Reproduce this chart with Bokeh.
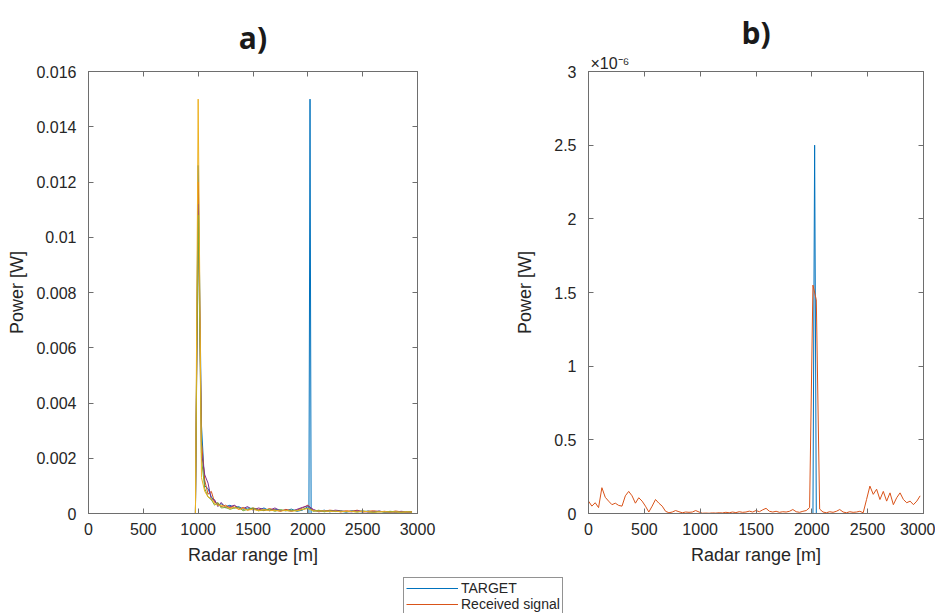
from bokeh.plotting import figure
from bokeh.models import (Range1d, FixedTicker, LinearAxis, Legend, LegendItem, Title,
                          Spacer, CustomJSTickFormatter)
from bokeh.layouts import row, column
from bokeh.embed import file_html
from bokeh.resources import INLINE

# ---------------- data ----------------
# panel a): several received signals [W] over radar range [m]
range_a = [0, 975, 1000, 1030, 1060, 1090, 1120, 1150, 1180, 1210,
           1250, 1290, 1330, 1370, 1410, 1450,
           1500, 1550, 1600, 1650, 1700, 1750, 1800, 1850, 1900, 1950,
           2000, 2050, 2100, 2150, 2200, 2250, 2300, 2350, 2400, 2450,
           2500, 2550, 2600, 2650, 2700, 2750, 2800, 2850, 2900, 2950]
sig_a_blue = [0, 0, 12.6e-3, 3.2e-3, 1.0e-3, 0.9e-3, 0.6e-3, 0.45e-3, 0.3e-3, 0.35e-3,
              0.25e-3, 0.3e-3, 0.2e-3, 0.25e-3, 0.15e-3, 0.2e-3,
              0.18e-3, 0.12e-3, 0.2e-3, 0.1e-3, 0.15e-3, 0.12e-3, 0.1e-3, 0.16e-3, 0.08e-3, 0.12e-3,
              0.25e-3, 0.1e-3, 0.08e-3, 0.12e-3, 0.06e-3, 0.1e-3, 0.08e-3, 0.05e-3, 0.1e-3, 0.07e-3,
              0.06e-3, 0.09e-3, 0.05e-3, 0.08e-3, 0.06e-3, 0.04e-3, 0.07e-3, 0.05e-3, 0.06e-3, 0.04e-3]
sig_a_orange = [0, 0, 12.0e-3, 2.6e-3, 1.2e-3, 0.7e-3, 0.8e-3, 0.4e-3, 0.35e-3, 0.25e-3,
                0.3e-3, 0.2e-3, 0.28e-3, 0.15e-3, 0.22e-3, 0.12e-3,
                0.2e-3, 0.15e-3, 0.1e-3, 0.18e-3, 0.12e-3, 0.08e-3, 0.15e-3, 0.1e-3, 0.12e-3, 0.2e-3,
                0.3e-3, 0.12e-3, 0.1e-3, 0.08e-3, 0.12e-3, 0.1e-3, 0.06e-3, 0.1e-3, 0.08e-3, 0.12e-3,
                0.05e-3, 0.08e-3, 0.1e-3, 0.06e-3, 0.08e-3, 0.05e-3, 0.09e-3, 0.06e-3, 0.05e-3, 0.07e-3]
sig_a_purple = [0, 0, 11.2e-3, 2.2e-3, 1.4e-3, 1.1e-3, 0.5e-3, 0.5e-3, 0.25e-3, 0.4e-3,
                0.2e-3, 0.25e-3, 0.3e-3, 0.2e-3, 0.18e-3, 0.25e-3,
                0.12e-3, 0.2e-3, 0.15e-3, 0.12e-3, 0.2e-3, 0.1e-3, 0.12e-3, 0.08e-3, 0.15e-3, 0.22e-3,
                0.28e-3, 0.15e-3, 0.06e-3, 0.1e-3, 0.08e-3, 0.12e-3, 0.1e-3, 0.07e-3, 0.06e-3, 0.1e-3,
                0.08e-3, 0.05e-3, 0.07e-3, 0.09e-3, 0.05e-3, 0.07e-3, 0.04e-3, 0.08e-3, 0.06e-3, 0.05e-3]
sig_a_green = [0, 0, 10.8e-3, 2.0e-3, 0.9e-3, 0.6e-3, 0.5e-3, 0.3e-3, 0.4e-3, 0.2e-3,
               0.22e-3, 0.15e-3, 0.2e-3, 0.22e-3, 0.1e-3, 0.15e-3,
               0.2e-3, 0.1e-3, 0.12e-3, 0.15e-3, 0.08e-3, 0.14e-3, 0.1e-3, 0.12e-3, 0.1e-3, 0.15e-3,
               0.2e-3, 0.08e-3, 0.12e-3, 0.06e-3, 0.1e-3, 0.07e-3, 0.09e-3, 0.06e-3, 0.08e-3, 0.05e-3,
               0.1e-3, 0.06e-3, 0.04e-3, 0.07e-3, 0.05e-3, 0.08e-3, 0.06e-3, 0.04e-3, 0.07e-3, 0.05e-3]
sig_a_yellow = [0, 0, 15.0e-3, 1.3e-3, 0.8e-3, 0.6e-3, 0.55e-3, 0.35e-3, 0.3e-3, 0.3e-3,
                0.25e-3, 0.18e-3, 0.22e-3, 0.15e-3, 0.18e-3, 0.12e-3,
                0.15e-3, 0.1e-3, 0.14e-3, 0.1e-3, 0.12e-3, 0.09e-3, 0.11e-3, 0.08e-3, 0.1e-3, 0.14e-3,
                0.18e-3, 0.1e-3, 0.08e-3, 0.1e-3, 0.07e-3, 0.09e-3, 0.06e-3, 0.08e-3, 0.07e-3, 0.06e-3,
                0.08e-3, 0.07e-3, 0.05e-3, 0.06e-3, 0.07e-3, 0.05e-3, 0.06e-3, 0.05e-3, 0.06e-3, 0.05e-3]
target_a_x = [0, 2010, 2020, 2030, 2950]
target_a_y = [0, 0, 15.0e-3, 0, 0]

# panel b): received signal [W] and target
range_b = list(range(0, 3000, 30))
received_b = [0.84e-7, 0.5e-7, 0.73e-7, 0.4e-7, 1.75e-7, 1.1e-7, 0.84e-7, 0.6e-7, 0.7e-7, 0.55e-7,
              0.5e-7, 1.2e-7, 1.5e-7, 1.2e-7, 0.7e-7, 1.07e-7, 0.84e-7, 0.5e-7, 0.1e-7, 0.5e-7,
              0.95e-7, 0.7e-7, 0.5e-7, 0.15e-7, 0.05e-7, 0.1e-7, 0.2e-7, 0.12e-7, 0.05e-7, 0.1e-7,
              0.08e-7, 0.1e-7, 0.2e-7, 0.1e-7, 0.02e-7, 0.03e-7, 0.02e-7, 0.04e-7, 0.03e-7, 0.05e-7,
              0.04e-7, 0.08e-7, 0.05e-7, 0.1e-7, 0.06e-7, 0.12e-7, 0.08e-7, 0.1e-7, 0.16e-7, 0.1e-7,
              0.2e-7, 0.12e-7, 0.25e-7, 0.35e-7, 0.15e-7, 0.1e-7, 0.15e-7, 0.08e-7, 0.12e-7, 0.1e-7,
              0.15e-7, 0.27e-7, 0.12e-7, 0.08e-7, 0.15e-7, 0.2e-7, 0.4e-7, 15.5e-7, 14.5e-7, 0.3e-7,
              0.1e-7, 0.05e-7, 0.12e-7, 0.08e-7, 0.15e-7, 0.27e-7, 0.1e-7, 0.05e-7, 0.12e-7, 0.08e-7,
              0.1e-7, 0.15e-7, 0.05e-7, 0.95e-7, 1.86e-7, 1.3e-7, 1.65e-7, 0.95e-7, 1.5e-7, 0.84e-7,
              1.4e-7, 0.6e-7, 1.07e-7, 1.4e-7, 0.95e-7, 0.73e-7, 0.84e-7, 0.6e-7, 0.84e-7, 1.2e-7]
target_b_x = [0, 2010, 2025, 2040, 2970]
target_b_y = [0, 0, 2.5e-6, 0, 0]

x_ticks = [0, 500, 1000, 1500, 2000, 2500, 3000]
x_tick_labels = ["0", "500", "1000", "1500", "2000", "2500", "3000"]
ya_ticks = [0, 0.002, 0.004, 0.006, 0.008, 0.01, 0.012, 0.014, 0.016]
ya_tick_labels = ["0", "0.002", "0.004", "0.006", "0.008", "0.01", "0.012", "0.014", "0.016"]
yb_ticks = [0, 0.5e-6, 1.0e-6, 1.5e-6, 2.0e-6, 2.5e-6, 3.0e-6]
yb_tick_labels = ["0", "0.5", "1", "1.5", "2", "2.5", "3"]
yb_multiplier = "\u00d710\u207b\u2076"

legend_labels = ["TARGET", "Received signal"]

# ---------------- style ----------------
FONT = "Liberation Sans"
AX = "#6e6e6e"
TXT = "#262626"
C_BLUE = "#0072BD"
C_ORANGE = "#D95319"
C_YELLOW = "#EDB120"
C_PURPLE = "#7E2F8E"
C_GREEN = "#77AC30"


def fmt(ticks, labels):
    return CustomJSTickFormatter(args=dict(vals=ticks, labs=labels), code="""
        for (let i = 0; i < vals.length; i++) {
            if (Math.abs(vals[i] - tick) <= 1e-6 * Math.abs(vals[i]) + 1e-18) return labs[i];
        }
        return '';""")


def style_axis(ax):
    ax.axis_line_color = AX
    ax.axis_line_width = 1
    ax.major_tick_line_color = AX
    ax.major_tick_in = 5
    ax.major_tick_out = 0
    ax.minor_tick_in = 0
    ax.minor_tick_out = 0
    ax.major_label_text_font = FONT
    ax.major_label_text_font_size = "16px"
    ax.major_label_text_color = TXT
    ax.axis_label_text_font = FONT
    ax.axis_label_text_font_size = "18px"
    ax.axis_label_text_font_style = "normal"
    ax.axis_label_text_color = TXT


def make_title(text, standoff):
    return Title(text=text, align="center", text_font="Open Sans", text_font_size="30px",
                 text_font_style="bold", text_color="#1a1a1a", standoff=standoff)


def make_fig(width, mleft, mright, yt, yl, ymax, ylab_standoff):
    p = figure(width=width, height=575,
               x_range=Range1d(0, 3000), y_range=Range1d(0, ymax),
               x_axis_type=None, y_axis_type=None,
               toolbar_location=None, output_backend="svg",
               min_border_left=mleft, min_border_right=mright,
               min_border_top=71, min_border_bottom=62,
               outline_line_color=AX, background_fill_color="white",
               border_fill_color="white")

    bx = LinearAxis(ticker=FixedTicker(ticks=x_ticks), formatter=fmt(x_ticks, x_tick_labels),
                    axis_label="Radar range [m]")
    style_axis(bx)
    bx.major_label_standoff = 9
    bx.axis_label_standoff = 7
    p.add_layout(bx, "below")

    ly = LinearAxis(ticker=FixedTicker(ticks=yt), formatter=fmt(yt, yl), axis_label="Power [W]")
    style_axis(ly)
    ly.major_label_standoff = 12
    ly.axis_label_standoff = ylab_standoff
    p.add_layout(ly, "left")

    tx = LinearAxis(ticker=FixedTicker(ticks=x_ticks), formatter=CustomJSTickFormatter(code="return ''"))
    style_axis(tx)
    tx.major_label_text_font_size = "1px"
    tx.major_label_standoff = 0
    p.add_layout(tx, "above")

    ry = LinearAxis(ticker=FixedTicker(ticks=yt), formatter=CustomJSTickFormatter(code="return ''"))
    style_axis(ry)
    ry.major_label_text_font_size = "1px"
    ry.major_label_standoff = 0
    p.add_layout(ry, "right")
    return p


# ---------------- panel a ----------------
p1 = make_fig(490, 88, 73, ya_ticks, ya_tick_labels, 0.016, 6)
p1.add_layout(make_title("a)", 28), "above")
p1.line(target_a_x, target_a_y, line_color=C_BLUE, line_width=1)
for ys, c in [(sig_a_blue, C_BLUE), (sig_a_orange, C_ORANGE), (sig_a_purple, C_PURPLE),
              (sig_a_green, C_GREEN), (sig_a_yellow, C_YELLOW)]:
    p1.line(range_a, ys, line_color=c, line_width=1)

# ---------------- panel b ----------------
p2 = make_fig(445, 98, 12, yb_ticks, yb_tick_labels, 3e-6, 16)
p2.add_layout(Title(text=yb_multiplier, align="left", offset=2, standoff=0,
                    text_font=FONT, text_font_size="16px", text_font_style="normal",
                    text_color=TXT), "above")
p2.add_layout(make_title("b)", 0), "above")
p2.line(target_b_x, target_b_y, line_color=C_BLUE, line_width=1)
p2.line(range_b, received_b, line_color=C_ORANGE, line_width=1)

# ---------------- legend (own small canvas below the panels) ----------------
lf = figure(width=200, height=38, x_range=Range1d(-2, -1), y_range=Range1d(-2, -1),
            x_axis_type=None, y_axis_type=None, toolbar_location=None,
            output_backend="svg", min_border=0, outline_line_color=None)
r_t = lf.line(target_b_x, target_b_y, line_color=C_BLUE, line_width=1)
r_r = lf.line(range_b, received_b, line_color=C_ORANGE, line_width=1)
leg = Legend(items=[LegendItem(label=legend_labels[0], renderers=[r_t]),
                    LegendItem(label=legend_labels[1], renderers=[r_r])],
             location="top_left", margin=2,
             border_line_color="#262626", border_line_width=1,
             background_fill_color="white", background_fill_alpha=1,
             label_text_font=FONT, label_text_font_size="14px", label_text_color=TXT,
             glyph_width=52, glyph_height=14, label_height=14,
             label_standoff=3, padding=2, spacing=0)
lf.add_layout(leg, "center")

layout = column(row(p1, p2), row(Spacer(width=401, height=38), lf))

open("out.html", "w").write(file_html(layout, INLINE))
